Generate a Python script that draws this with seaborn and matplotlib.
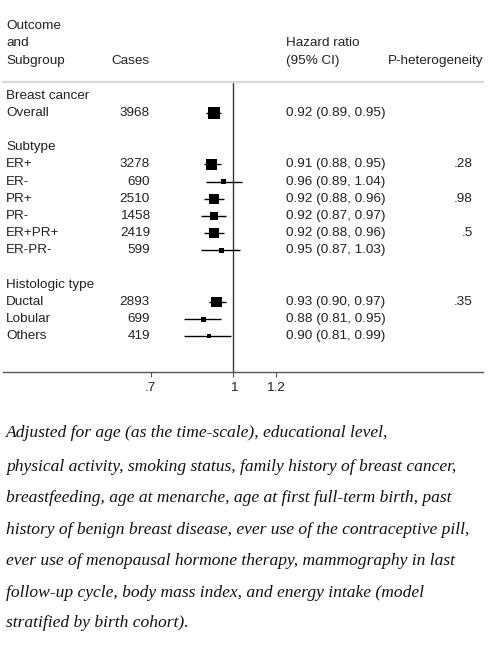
import numpy as np
import pandas as pd
import matplotlib
matplotlib.use('Agg')
import matplotlib.pyplot as plt
import matplotlib.ticker as mticker
import seaborn as sns

# data
groups = ['Breast cancer', 'Subtype', 'Histologic type']
subgroups = ['Overall', 'ER+', 'ER-', 'PR+', 'PR-', 'ER+PR+', 'ER-PR-', 'Ductal', 'Lobular', 'Others']
group_idx = [0, 1, 1, 1, 1, 1, 1, 2, 2, 2]
cases = [3968, 3278, 690, 2510, 1458, 2419, 599, 2893, 699, 419]
hr = [0.92, 0.91, 0.96, 0.92, 0.92, 0.92, 0.95, 0.93, 0.88, 0.90]
ci_lo = [0.89, 0.88, 0.89, 0.88, 0.87, 0.88, 0.87, 0.90, 0.81, 0.81]
ci_hi = [0.95, 0.95, 1.04, 0.96, 0.97, 0.96, 1.03, 0.97, 0.95, 0.99]
p_het = ['', '.28', '', '.98', '', '.5', '', '.35', '', '']
xticks = [0.7, 1, 1.2]
xtick_labels = ['.7', '1', '1.2']

footnote = [
    'Adjusted for age (as the time-scale), educational level,',
    'physical activity, smoking status, family history of breast cancer,',
    'breastfeeding, age at menarche, age at first full-term birth, past',
    'history of benign breast disease, ever use of the contraceptive pill,',
    'ever use of menopausal hormone therapy, mammography in last',
    'follow-up cycle, body mass index, and energy intake (model',
    'stratified by birth cohort).',
]

# row layout: group header, its subgroups, then a blank row
row = 0
group_rows = []
sub_rows = []
for g in range(len(groups)):
    group_rows.append(row)
    row += 1
    for i, gi in enumerate(group_idx):
        if gi == g:
            sub_rows.append(row)
            row += 1
    row += 1

df = pd.DataFrame({'sub': subgroups, 'cases': cases, 'hr': hr,
                   'lo': ci_lo, 'hi': ci_hi, 'p': p_het, 'row': sub_rows})

sns.set_style('white')
plt.rcParams['font.family'] = ['Liberation Sans', 'DejaVu Sans']
fs = 9.7

W, H = 490, 657
fig = plt.figure(figsize=(W / 100, H / 100), dpi=100)
fig.patch.set_facecolor('white')

def fx(px):
    return px / W

def fy(py):
    return 1 - py / H

ax_l, ax_r, ax_t, ax_b = 3, 483, 82, 372
ax = fig.add_axes([fx(ax_l), fy(ax_b), fx(ax_r - ax_l), (ax_b - ax_t) / H])

row0_px, row_h = 95.6, 17.2
ax.set_ylim((ax_b - row0_px) / row_h, (ax_t - row0_px) / row_h)
ax.set_xscale('log')
ax.set_xlim(0.3706, 2.934)

ax.axvline(1, color='#3a3a3a', lw=1.0, zorder=1)
ax.hlines(df['row'], df['lo'], df['hi'], color='black', lw=1.0, zorder=2)
sns.scatterplot(data=df, x='hr', y='row', size='cases', sizes=(0, 81),
                size_norm=(0, 3968), marker='s', color='black', linewidth=0,
                legend=False, ax=ax, zorder=3)
ax.set_xlabel('')
ax.set_ylabel('')
ax.set_yticks([])

ax.xaxis.set_major_locator(mticker.FixedLocator(xticks))
ax.xaxis.set_major_formatter(mticker.FixedFormatter(xtick_labels))
ax.xaxis.set_minor_locator(mticker.NullLocator())
ax.tick_params(axis='x', bottom=True, length=3.5, width=0.8, color='#555555',
               labelsize=fs, pad=4, labelcolor='#222222')

for s in ['left', 'right']:
    ax.spines[s].set_visible(False)
ax.spines['bottom'].set_color('#555555')
ax.spines['bottom'].set_linewidth(1.0)
ax.spines['top'].set_color('#d9d9d9')
ax.spines['top'].set_linewidth(1.6)

tc = '#222222'
# column headers (in pixel rows above the axes)
def row_y(py):
    return (py - row0_px) / row_h

xa = lambda px: (px - ax_l) / (ax_r - ax_l)
tr = ax.get_yaxis_transform()
hdr = dict(fontsize=fs, color=tc, va='center', clip_on=False)
for py, txt in [(26, 'Outcome'), (43, 'and'), (61, 'Subgroup')]:
    ax.text(xa(6), row_y(py), txt, ha='left', transform=tr, **hdr)
ax.text(xa(150), row_y(61), 'Cases', ha='right', transform=tr, **hdr)
ax.text(xa(286), row_y(43), 'Hazard ratio', ha='left', transform=tr, **hdr)
ax.text(xa(286), row_y(61), '(95% CI)', ha='left', transform=tr, **hdr)
ax.text(xa(483), row_y(61), 'P-heterogeneity', ha='right', transform=tr, **hdr)

body = dict(fontsize=fs, color=tc, va='center', transform=tr)
for g, r in zip(groups, group_rows):
    ax.text(xa(6), r, g, ha='left', **body)
for _, d in df.iterrows():
    ax.text(xa(6), d['row'], d['sub'], ha='left', **body)
    ax.text(xa(150), d['row'], f"{d['cases']}", ha='right', **body)
    ax.text(xa(286), d['row'], f"{d['hr']:.2f} ({d['lo']:.2f}, {d['hi']:.2f})", ha='left', **body)
    if d['p']:
        ax.text(xa(473), d['row'], d['p'], ha='right', **body)

foot_y = [433, 467, 498, 530, 561, 593, 623]
for txt, py in zip(footnote, foot_y):
    fig.text(fx(6), fy(py), txt, ha='left', va='center', fontsize=12.6,
             family=['Liberation Serif', 'DejaVu Serif'], style='italic', color='#111111')

fig.savefig('out.png', dpi=100)
